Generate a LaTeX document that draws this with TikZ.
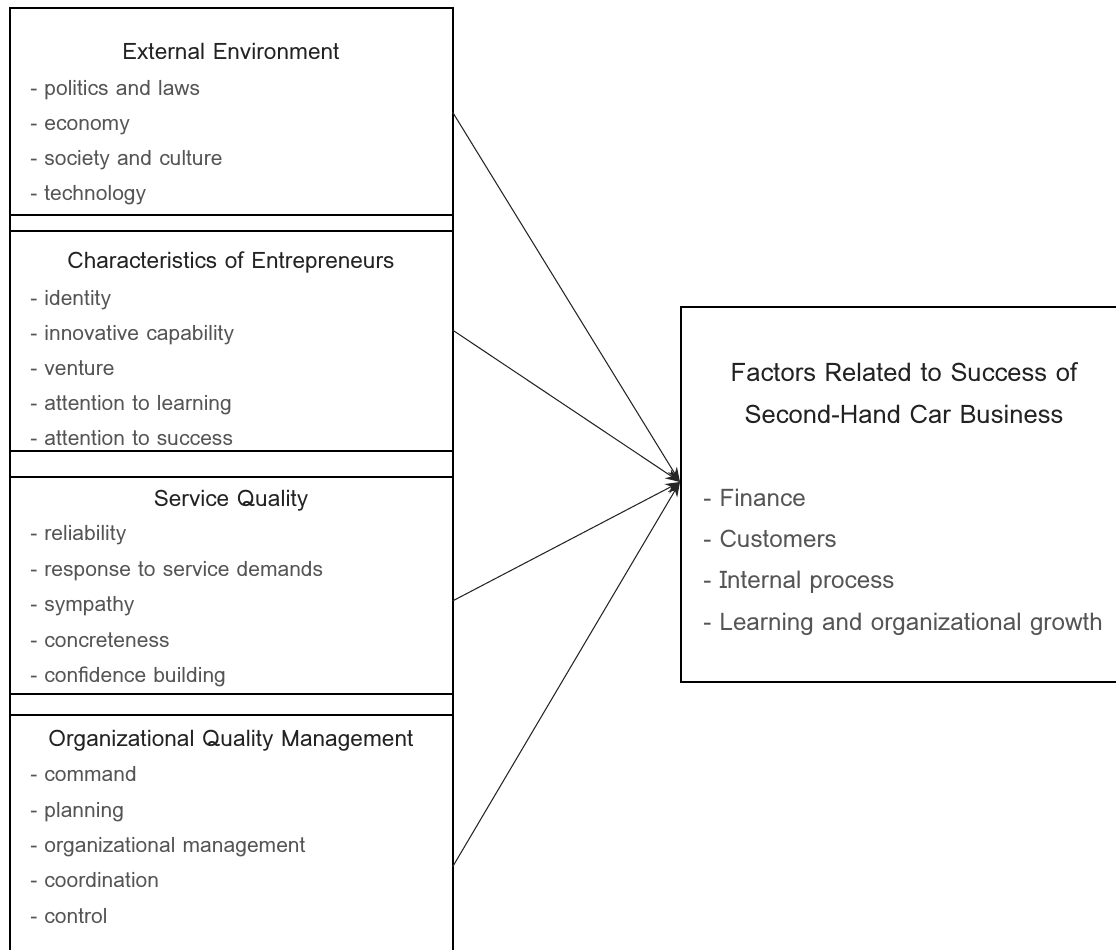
\documentclass[tikz,border=0pt]{standalone}
\usepackage{fontspec}
\setmainfont{Loma}
\usetikzlibrary{arrows.meta}
\definecolor{headink}{HTML}{222222}
\definecolor{itemink}{HTML}{555555}
\begin{document}
\begin{tikzpicture}[x=0.75pt,y=-0.75pt,
  panel/.style={line width=1.5pt, draw=black},
  head/.style={anchor=base, inner sep=0pt, text=headink, font=\fontsize{17}{19}\selectfont},
  item/.style={anchor=base west, inner sep=0pt, text=itemink, font=\fontsize{15.8}{18}\selectfont},
  bighead/.style={anchor=base, inner sep=0pt, text=headink, font=\fontsize{19.2}{22}\selectfont},
  bigitem/.style={anchor=base west, inner sep=0pt, text=itemink, font=\fontsize{18.2}{21}\selectfont},
  link/.style={line width=0.8pt, draw=black!85, -{Stealth[length=11pt,width=8pt]}}]
\useasboundingbox (0,0) rectangle (1116,949);
\clip (0,0) rectangle (1116,949);

% left column: four factor panels separated by thin strips
\draw[panel] (9.5,8.5) rectangle (452.5,215);
\draw[panel] (9.5,215) rectangle (452.5,230.5);
\draw[panel] (9.5,230.5) rectangle (452.5,451);
\draw[panel] (9.5,451) rectangle (452.5,476.5);
\draw[panel] (9.5,476.5) rectangle (452.5,693.5);
\draw[panel] (9.5,693.5) rectangle (452.5,715);
\draw[panel] (9.5,715) rectangle (452.5,960);

% right panel
\draw[panel] (680.7,306.7) rectangle (1130,681.7);

% External Environment
\node[head] (h1) at (231,60) {External Environment};
\foreach \t [count=\i] in {politics and laws, economy, society and culture, technology}
  \node[item] (a\i) at (30,95+35*\i-35) {- \t};

% Characteristics of Entrepreneurs
\node[head] (h2) at (231,268.3) {Characteristics of Entrepreneurs};
\foreach \t [count=\i] in {identity, innovative capability, venture, attention to learning, attention to success}
  \node[item] (b\i) at (30,305+35*\i-35) {- \t};

% Service Quality
\node[head] (h3) at (231,506) {Service Quality};
\foreach \t [count=\i] in {reliability, response to service demands, sympathy, concreteness, confidence building}
  \node[item] (c\i) at (30,540.5+35.5*\i-35.5) {- \t};

% Organizational Quality Management
\node[head] (h4) at (231,746.7) {Organizational Quality Management};
\foreach \t [count=\i] in {command, planning, organizational management, coordination, control}
  \node[item] (d\i) at (30,781.7+35.4*\i-35.4) {- \t};

% outcome panel text
\node[bighead] (r1) at (904,381.7) {Factors Related to Success of};
\node[bighead] (r2) at (904,423.3) {Second-Hand Car Business};
\foreach \t [count=\i] in {Finance, Customers, Internal process, Learning and organizational growth}
  \node[bigitem] (e\i) at (703,506.7+41.1*\i-41.1) {- \t};

% connectors
\coordinate (s1) at (452.5,112);
\coordinate (s2) at (452.5,330);
\coordinate (s3) at (452.5,601);
\coordinate (s4) at (452.5,867);
\coordinate (hub) at (680,482);
\foreach \s in {s1,s2,s3,s4}
  \draw[link] (\s) -- (hub);
\end{tikzpicture}
\end{document}
